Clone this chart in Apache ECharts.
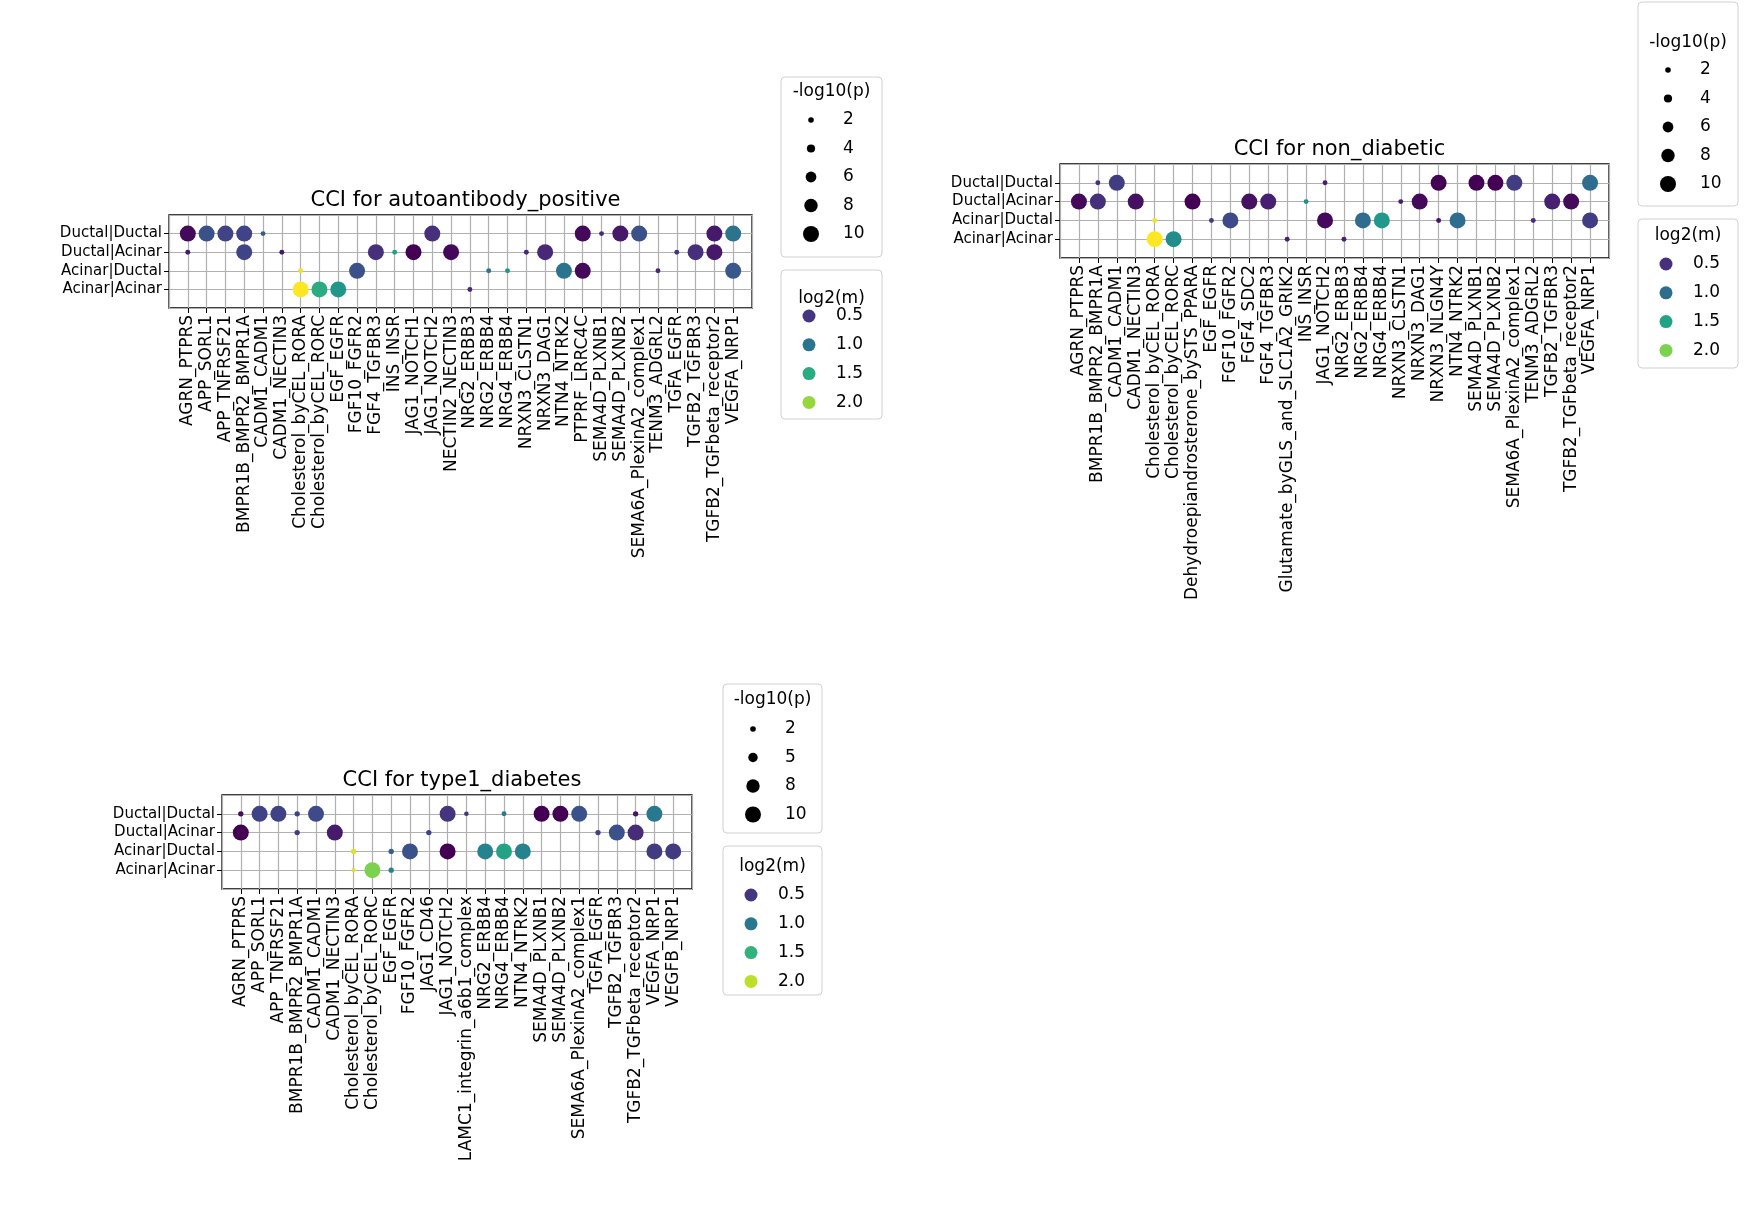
<!DOCTYPE html>
<html><head><meta charset="utf-8">
<script src="https://cdn.jsdelivr.net/npm/echarts@6/dist/echarts.min.js"></script>
<style>html,body{margin:0;padding:0;background:#fff}#c{width:1755px;height:1216px}</style>
</head><body><div id="c"></div>
<script>
const rows = ['Ductal|Ductal','Ductal|Acinar','Acinar|Ductal','Acinar|Acinar'];

const colsAA = ['AGRN_PTPRS','APP_SORL1','APP_TNFRSF21','BMPR1B_BMPR2_BMPR1A','CADM1_CADM1','CADM1_NECTIN3','Cholesterol_byCEL_RORA','Cholesterol_byCEL_RORC','EGF_EGFR','FGF10_FGFR2','FGF4_TGFBR3','INS_INSR','JAG1_NOTCH1','JAG1_NOTCH2','NECTIN2_NECTIN3','NRG2_ERBB3','NRG2_ERBB4','NRG4_ERBB4','NRXN3_CLSTN1','NRXN3_DAG1','NTN4_NTRK2','PTPRF_LRRC4C','SEMA4D_PLXNB1','SEMA4D_PLXNB2','SEMA6A_PlexinA2_complex1','TENM3_ADGRL2','TGFA_EGFR','TGFB2_TGFBR3','TGFB2_TGFbeta_receptor2','VEGFA_NRP1'];
// [col, row, log2(m), -log10(p)]
const ptsAA = [
[0,0,0.2,10],[1,0,0.7,10],[2,0,0.6,10],[3,0,0.6,10],[4,0,0.8,1.5],[13,0,0.45,10],[21,0,0.2,10],[22,0,0.4,1.5],[23,0,0.3,10],[24,0,0.7,10],[28,0,0.3,10],[29,0,1.0,10],
[0,1,0.3,1.5],[3,1,0.6,10],[5,1,0.3,1.5],[10,1,0.45,10],[11,1,1.4,1.5],[12,1,0.15,10],[14,1,0.2,10],[18,1,0.4,1.5],[19,1,0.4,10],[26,1,0.5,1.5],[27,1,0.45,10],[28,1,0.3,10],
[6,2,2.3,1.5],[9,2,0.7,10],[16,2,1.0,1.5],[17,2,1.3,1.5],[20,2,1.0,10],[21,2,0.2,10],[25,2,0.4,1.5],[29,2,0.75,10],
[6,3,2.35,10],[7,3,1.5,10],[8,3,1.3,10],[15,3,0.4,1.5]
];

const colsND = ['AGRN_PTPRS','BMPR1B_BMPR2_BMPR1A','CADM1_CADM1','CADM1_NECTIN3','Cholesterol_byCEL_RORA','Cholesterol_byCEL_RORC','Dehydroepiandrosterone_bySTS_PPARA','EGF_EGFR','FGF10_FGFR2','FGF4_SDC2','FGF4_TGFBR3','Glutamate_byGLS_and_SLC1A2_GRIK2','INS_INSR','JAG1_NOTCH2','NRG2_ERBB3','NRG2_ERBB4','NRG4_ERBB4','NRXN3_CLSTN1','NRXN3_DAG1','NRXN3_NLGN4Y','NTN4_NTRK2','SEMA4D_PLXNB1','SEMA4D_PLXNB2','SEMA6A_PlexinA2_complex1','TENM3_ADGRL2','TGFB2_TGFBR3','TGFB2_TGFbeta_receptor2','VEGFA_NRP1'];
const ptsND = [
[1,0,0.5,1.5],[2,0,0.6,10],[13,0,0.4,1.5],[19,0,0.2,10],[21,0,0.2,10],[22,0,0.2,10],[23,0,0.6,10],[27,0,1.0,10],
[0,1,0.25,10],[1,1,0.5,10],[3,1,0.3,10],[6,1,0.2,10],[9,1,0.3,10],[10,1,0.4,10],[12,1,1.3,1.5],[17,1,0.4,1.5],[18,1,0.25,10],[25,1,0.4,10],[26,1,0.25,10],
[4,2,2.4,1.5],[7,2,0.6,1.5],[8,2,0.7,10],[13,2,0.25,10],[15,2,1.0,10],[16,2,1.4,10],[19,2,0.3,1.5],[20,2,1.0,10],[24,2,0.5,1.5],[27,2,0.6,10],
[4,3,2.45,10],[5,3,1.3,10],[11,3,0.4,1.5],[14,3,0.4,1.5]
];

const colsT1 = ['AGRN_PTPRS','APP_SORL1','APP_TNFRSF21','BMPR1B_BMPR2_BMPR1A','CADM1_CADM1','CADM1_NECTIN3','Cholesterol_byCEL_RORA','Cholesterol_byCEL_RORC','EGF_EGFR','FGF10_FGFR2','JAG1_CD46','JAG1_NOTCH2','LAMC1_integrin_a6b1_complex','NRG2_ERBB4','NRG4_ERBB4','NTN4_NTRK2','SEMA4D_PLXNB1','SEMA4D_PLXNB2','SEMA6A_PlexinA2_complex1','TGFA_EGFR','TGFB2_TGFBR3','TGFB2_TGFbeta_receptor2','VEGFA_NRP1','VEGFB_NRP1'];
const ptsT1 = [
[0,0,0.25,1.8],[1,0,0.6,10],[2,0,0.6,10],[3,0,0.6,1.8],[4,0,0.65,10],[11,0,0.5,10],[12,0,0.5,1.2],[14,0,1.0,1.5],[16,0,0.2,10],[17,0,0.2,10],[18,0,0.7,10],[21,0,0.3,1.8],[22,0,1.0,10],
[0,1,0.2,10],[3,1,0.55,1.8],[5,1,0.35,10],[10,1,0.6,1.8],[19,1,0.6,1.8],[20,1,0.7,10],[21,1,0.45,10],
[6,2,2.1,1.8],[8,2,0.8,1.8],[9,2,0.7,10],[11,2,0.2,10],[13,2,1.1,10],[14,2,1.35,10],[15,2,1.1,10],[22,2,0.55,10],[23,2,0.55,10],
[6,3,2.1,1.0],[7,3,1.8,10],[8,3,1.1,1.8]
];

const viridis = ['#440154','#482878','#3e4989','#31688e','#26828e','#1f9e89','#35b779','#6ece58','#b5de2b','#fde725'];
function vcol(t){t=Math.max(0,Math.min(1,t));const f=t*(viridis.length-1),i=Math.min(Math.floor(f),viridis.length-2),r=f-i;
 const a=viridis[i],b=viridis[i+1];const h=(s,k)=>parseInt(s.substr(1+2*k,2),16);
 return 'rgb('+[0,1,2].map(k=>Math.round(h(a,k)*(1-r)+h(b,k)*r)).join(',')+')';}
const sz = p => 3 + 1.3*p;

const panels = [
 {title:'CCI for autoantibody_positive', cols:colsAA, pts:ptsAA, left:169, top:215, w:583, h:93, vmin:0.15, vmax:2.35, sizes:[2,4,6,8,10],
  sbox:[781,77,101,180,92,120], cbox:[781,270,101,149,299,316]},
 {title:'CCI for non_diabetic', cols:colsND, pts:ptsND, left:1060, top:164, w:549, h:94, vmin:0.2, vmax:2.45, sizes:[2,4,6,8,10],
  sbox:[1638,2,100,204,43,70], cbox:[1638,219,100,149,236,264]},
 {title:'CCI for type1_diabetes', cols:colsT1, pts:ptsT1, left:222, top:795, w:470, h:94, vmin:0.2, vmax:2.2, sizes:[2,5,8,10],
  sbox:[723,684,99,149,700,729], cbox:[723,846,99,149,867,895]}
];
const F = 'DejaVu Sans';
const grid=[],xAxis=[],yAxis=[],series=[],title=[],graphic=[];
panels.forEach((P,i)=>{
 grid.push({left:P.left,top:P.top,width:P.w,height:P.h,show:true,borderColor:'#000',borderWidth:1.3,backgroundColor:'transparent'});
 const n=P.cols.length;
 xAxis.push({gridIndex:i,type:'value',min:-1,max:n,interval:1,position:'bottom',
  axisLine:{show:false,onZero:false},axisTick:{show:true,length:5,lineStyle:{color:'#000'}},
  splitLine:{show:true,lineStyle:{color:'#b0b0b0',width:1.2}},
  axisLabel:{rotate:90,fontFamily:F,fontSize:17,color:'#000',margin:7,showMinLabel:false,showMaxLabel:false,
   formatter:v=>(v>=0&&v<n)?P.cols[v]:''}});
 yAxis.push({gridIndex:i,type:'value',min:-1,max:4,interval:1,inverse:true,position:'left',
  axisLine:{show:false,onZero:false},axisTick:{show:true,length:5,lineStyle:{color:'#000'}},
  splitLine:{show:true,lineStyle:{color:'#b0b0b0',width:1.2}},
  axisLabel:{fontFamily:F,fontSize:15,color:'#000',margin:7,showMinLabel:false,showMaxLabel:false,
   formatter:v=>(v>=0&&v<4)?rows[v]:''}});
 series.push({type:'scatter',xAxisIndex:i,yAxisIndex:i,data:P.pts,z:1,
  symbolSize:d=>sz(d[3]),
  itemStyle:{color:p=>vcol((p.data[2]-P.vmin)/(P.vmax-P.vmin)),opacity:1}});
 title.push({text:P.title,left:P.left+P.w/2,top:P.top-30,textAlign:'center',textStyle:{fontFamily:F,fontSize:21,fontWeight:'normal',color:'#000'}});
 const [sx,sy,sw,sh,st,se]=P.sbox;
 graphic.push({type:'rect',shape:{x:sx,y:sy,width:sw,height:sh,r:4},style:{fill:'#fff',stroke:'#d0d0d0',lineWidth:1}});
 graphic.push({type:'text',x:sx+sw/2,y:st,style:{text:'-log10(p)',fontFamily:F,fontSize:17,fill:'#000',textAlign:'center',textVerticalAlign:'middle'}});
 P.sizes.forEach((s,k)=>{const yy=se+k*28.5;
  graphic.push({type:'circle',shape:{cx:sx+30,cy:yy,r:sz(s)/2},style:{fill:'#000'}});
  graphic.push({type:'text',x:sx+62,y:yy,style:{text:String(s),fontFamily:F,fontSize:17,fill:'#000',textVerticalAlign:'middle'}});});
 const [cx,cy,cw,ch,ct,ce]=P.cbox;
 graphic.push({type:'rect',shape:{x:cx,y:cy,width:cw,height:ch,r:4},style:{fill:'#fff',stroke:'#d0d0d0',lineWidth:1}});
 graphic.push({type:'text',x:cx+cw/2,y:ct,style:{text:'log2(m)',fontFamily:F,fontSize:17,fill:'#000',textAlign:'center',textVerticalAlign:'middle'}});
 [0.5,1.0,1.5,2.0].forEach((v,k)=>{const yy=ce+k*28.8;
  graphic.push({type:'circle',shape:{cx:cx+28,cy:yy,r:6.5},style:{fill:vcol((v-P.vmin)/(P.vmax-P.vmin))}});
  graphic.push({type:'text',x:cx+55,y:yy,style:{text:v.toFixed(1),fontFamily:F,fontSize:17,fill:'#000',textVerticalAlign:'middle'}});});
});
const ch=echarts.init(document.getElementById('c'),null,{renderer:'canvas'});
ch.setOption({animation:false,backgroundColor:'#fff',grid,xAxis,yAxis,series,title,graphic});
</script></body></html>
